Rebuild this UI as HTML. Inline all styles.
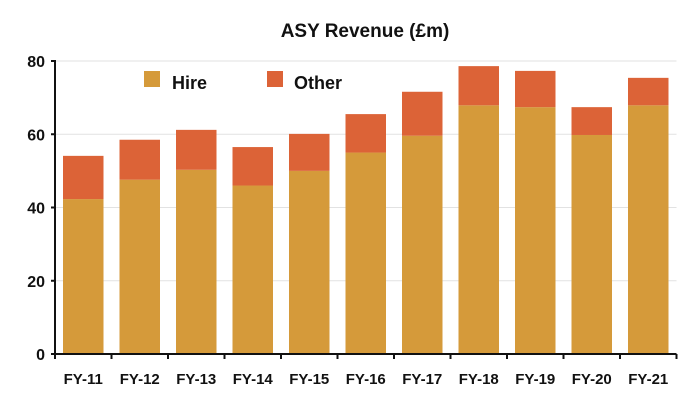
<!DOCTYPE html>
<html><head><meta charset="utf-8"><style>
body{margin:0;background:#fff;}
svg text{font-family:"Liberation Sans",Arial,sans-serif;font-weight:bold;fill:#111;}
</style></head><body>
<svg id="chart" width="700" height="400">
<text x="365" y="37" font-size="19" text-anchor="middle">ASY Revenue (£m)</text>
<g id="grid"></g><g id="bars"></g><g id="axes"></g>
<rect x="144" y="71" width="16" height="16" fill="#d59a3a"/>
<text x="172" y="89" font-size="18">Hire</text>
<rect x="267" y="71" width="16" height="16" fill="#dc6337"/>
<text x="294" y="89" font-size="18">Other</text>
</svg>
<script>
const categories=["FY-11","FY-12","FY-13","FY-14","FY-15","FY-16","FY-17","FY-18","FY-19","FY-20","FY-21"];
const hire=[42.3,47.6,50.3,46.0,50.0,55.0,59.6,67.9,67.4,59.8,67.9];
const other=[11.8,10.9,10.9,10.5,10.1,10.5,12.0,10.7,9.9,7.6,7.5];
const yTicks=[0,20,40,60,80];
const NS="http://www.w3.org/2000/svg";
const x0=55,cw=56.5,y0=354,yTop=61,yMax=80;
const y=v=>y0-(v/yMax)*(y0-yTop);
function mk(t,a,p){const e=document.createElementNS(NS,t);for(const k in a)e.setAttribute(k,a[k]);p.appendChild(e);return e;}
const G=document.getElementById('grid'),B=document.getElementById('bars'),A=document.getElementById('axes');
yTicks.forEach(v=>{
 if(v>0){const l=mk('line',{x1:x0,x2:x0+cw*categories.length,y1:y(v),y2:y(v),stroke:'#e2e2e2','stroke-width':1},G);
 
 }
 const tk=mk('line',{x1:x0-4,x2:x0,y1:y(v),y2:y(v),stroke:'#111','stroke-width':2},A);
 
 
 const t=mk('text',{x:x0-10,y:y(v)+6,'font-size':16,'text-anchor':'end'},A);t.textContent=v;
 
 
});
categories.forEach((c,i)=>{
 const bx=x0+cw*i+8,bw=cw-16;
 const r1=mk('rect',{x:bx,y:y(hire[i]),width:bw,height:y0-y(hire[i]),fill:'#d59a3a'},B);
 
 
 const tot=hire[i]+other[i];
 const r2=mk('rect',{x:bx,y:y(tot),width:bw,height:y(hire[i])-y(tot),fill:'#dc6337'},B);
 
 
 const tk=mk('line',{x1:x0+cw*(i+1),x2:x0+cw*(i+1),y1:y0,y2:y0+5,stroke:'#111','stroke-width':2},A);
 
 
 const t=mk('text',{x:x0+cw*i+cw/2,y:y0+30,'font-size':15,'text-anchor':'middle'},A);t.textContent=c;
 
 
});
const ya=mk('line',{x1:x0,x2:x0,y1:yTop-1,y2:y0+5,stroke:'#111','stroke-width':2},A);


const xa=mk('line',{x1:x0-4,x2:x0+cw*categories.length,y1:y0,y2:y0,stroke:'#111','stroke-width':2},A);


</script>
</body></html>
